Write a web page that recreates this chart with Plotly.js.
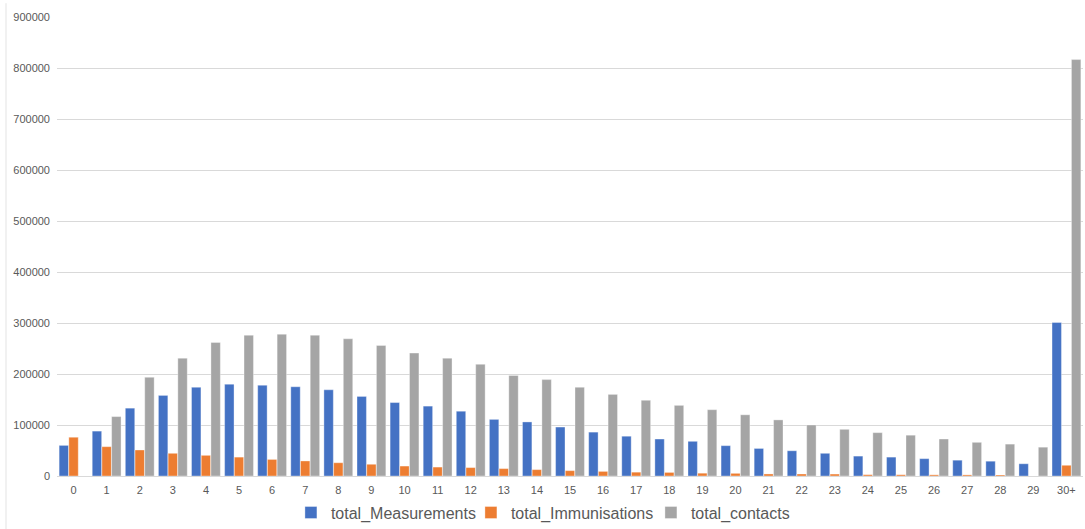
<!DOCTYPE html>
<html>
<head>
<meta charset="utf-8">
<script src="https://cdn.plot.ly/plotly-3.0.1.min.js"></script>
<style>html,body{margin:0;padding:0;background:#fff;}#chart{width:1085px;height:529px;}</style>
</head>
<body>
<div id="chart"></div>
<script>
const categories = ["0","1","2","3","4","5","6","7","8","9","10","11","12","13","14","15","16","17","18","19","20","21","22","23","24","25","26","27","28","29","30+"];
const totalMeasurements = [60000,88000,133000,158000,174000,180000,178000,175000,169000,156000,144000,137000,127000,111000,106000,96000,86000,78000,72500,68000,59500,54000,49500,44500,39000,37000,34000,31000,29000,24000,301000];
const totalImmunisations = [76000,57500,51000,44500,40500,37000,32500,29500,26000,23000,19500,17500,16500,14500,12500,10500,9000,7500,7000,5500,5200,4000,3900,3800,2600,2500,2300,2200,2000,0,21000];
const totalContacts = [0,116500,193500,231000,262000,276000,278000,276000,269000,256000,241000,231000,219000,197000,189000,174000,160000,148500,138500,130000,120000,110000,100000,91500,85000,80000,72500,66000,62500,56500,816500];
const seriesNames = ["total_Measurements","total_Immunisations","total_contacts"];
const seriesColors = ["#4472C4","#ED7D31","#A5A5A5"];
const yTicks = [0,100000,200000,300000,400000,500000,600000,700000,800000,900000];

const values = [totalMeasurements, totalImmunisations, totalContacts];
const traces = values.map((v,i)=>({
  type:'bar',
  x:categories,
  y:v,
  name:seriesNames[i],
  marker:{color:seriesColors[i], line:{color:'rgba(255,255,255,0.35)', width:1}},
  hoverinfo:'x+y+name'
}));

const layout = {
  width:1085, height:529,
  margin:{l:57, r:2, t:17, b:53, autoexpand:false},
  paper_bgcolor:'#ffffff', plot_bgcolor:'#ffffff',
  barmode:'group', bargap:0.12, bargroupgap:0.03,
  font:{family:'Liberation Sans, Arial, sans-serif', color:'#595959'},
  xaxis:{
    type:'category',
    tickfont:{size:11, color:'#595959'},
    showgrid:false, zeroline:false,
    showline:true, linecolor:'#d9d9d9', linewidth:1,
    ticks:'', ticklabelstandoff:4
  },
  yaxis:{
    range:[0,900000],
    tickvals:yTicks,
    ticktext:yTicks.map(String),
    tickfont:{size:11, color:'#595959'},
    showgrid:true, gridcolor:'#d9d9d9', gridwidth:1,
    zeroline:false, showline:false, ticks:'',
    ticklabelstandoff:6
  },
  showlegend:true,
  legend:{orientation:'h', xref:'paper', x:0.228, xanchor:'left',
    yref:'container', y:0.031, yanchor:'middle',
    entrywidth:135, entrywidthmode:'pixels',
    font:{size:16, color:'#595959'}, itemwidth:30, tracegroupgap:0},
  shapes:[{type:'line', xref:'paper', yref:'paper', x0:-0.0497, x1:-0.0497, y0:-0.2, y1:1.03,
    line:{color:'#e3e3e3', width:1}}]
};
Plotly.newPlot('chart', traces, layout, {displayModeBar:false, staticPlot:true});
</script>
</body>
</html>
